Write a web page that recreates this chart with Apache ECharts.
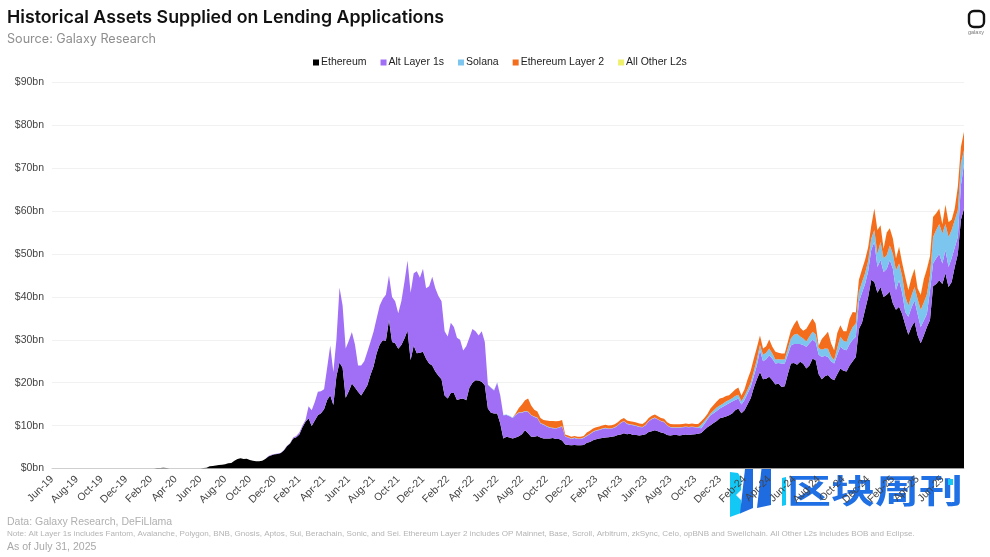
<!DOCTYPE html>
<html>
<head>
<meta charset="utf-8">
<title>Historical Assets Supplied on Lending Applications</title>
<script src="https://cdn.jsdelivr.net/npm/echarts@6/dist/echarts.min.js"></script>
<style>
	html, body { margin: 0; padding: 0; background: #fff; }
	#chart { width: 990px; height: 557px; }
</style>
</head>
<body>
<div id="chart"></div>
<script>
// one label every two months, four readings per month between them
var tickLabels = ['Jun-19', 'Aug-19', 'Oct-19', 'Dec-19', 'Feb-20', 'Apr-20', 'Jun-20', 'Aug-20', 'Oct-20', 'Dec-20',
	'Feb-21', 'Apr-21', 'Jun-21', 'Aug-21', 'Oct-21', 'Dec-21', 'Feb-22', 'Apr-22', 'Jun-22', 'Aug-22',
	'Oct-22', 'Dec-22', 'Feb-23', 'Apr-23', 'Jun-23', 'Aug-23', 'Oct-23', 'Dec-23', 'Feb-24', 'Apr-24',
	'Jun-24', 'Aug-24', 'Oct-24', 'Dec-24', 'Feb-25', 'Apr-25', 'Jun-25'];
var yTicks = [0, 10, 20, 30, 40, 50, 60, 70, 80, 90];

// values in $bn
var ethereum = [
	0, 0, 0, 0, 0, 0, 0, 0, 0, 0,
	0, 0, 0, 0, 0, 0, 0, 0, 0, 0,
	0, 0, 0, 0, 0, 0, 0, 0, 0, 0,
	0, 0, 0, 0, .1, .1, .2, .1, 0, 0,
	0, 0, 0, 0, 0, 0, 0, 0, 0, .1,
	.2, .5, .6, .7, .8, .9, 1, 1.2, 1.3, 1.8,
	2.2, 2.4, 2.2, 2.3, 2, 1.8, 1.7, 1.7, 1.8, 2.2,
	2.8, 3.1, 3.3, 3.4, 3.6, 4.2, 5.2, 5.8, 7, 7.3,
	7.9, 9.6, 10.9, 11.7, 9.9, 11.2, 12.4, 12.9, 13.8, 16,
	17.1, 14.8, 21.5, 24.7, 23.5, 16.5, 18, 19.8, 18.9, 17.9,
	17, 18.2, 19.4, 21.8, 23.8, 26.9, 28.9, 29.9, 29.8, 34.6,
	29.5, 29.2, 27.9, 28.8, 30.3, 32.2, 25.3, 28.7, 26.9, 27,
	27.2, 25.6, 24.5, 24, 22.6, 21.6, 20.8, 17, 16.3, 17.6,
	17.6, 16, 16.2, 16.3, 15.9, 18.8, 20, 20.6, 20.5, 20.2,
	19.4, 14, 13, 12.8, 12.8, 10.5, 7, 7.4, 7.2, 7,
	7.2, 7.5, 8, 8.9, 8.2, 7.4, 7.4, 7.6, 7.2, 7,
	7, 7, 7.1, 6.9, 6.9, 6.5, 5.6, 5.5, 5.4, 5.5,
	5.4, 5.4, 5.5, 6, 6.2, 6.6, 6.8, 7, 7.1, 7.2,
	7.3, 7.4, 7.5, 7.8, 7.9, 8.2, 8, 8.1, 7.8, 7.8,
	7.7, 7.8, 8, 8.5, 8.7, 8.9, 8.7, 8.4, 8.2, 7.8,
	7.7, 7.8, 7.8, 7.7, 7.8, 7.9, 7.8, 7.9, 8, 8.1,
	8.3, 9, 9.6, 10.1, 10.6, 11.1, 11.7, 11.9, 12.1, 12.4,
	12.8, 13.6, 14, 12.9, 13.6, 15, 16.4, 18.8, 20.8, 22.5,
	20.8, 20.9, 21.4, 20.6, 19.6, 19.8, 19, 19.2, 22, 24.5,
	24.6, 24.2, 24.9, 24.4, 23.3, 24, 25.6, 25.3, 22, 20.8,
	21.5, 21.8, 21, 20.6, 22, 23.3, 22.8, 22.6, 24, 25,
	26, 32.5, 34, 37, 40, 44, 43.5, 41, 42.3, 40,
	40.5, 41.2, 38.5, 37, 37.7, 36, 33.5, 31.2, 33, 34.2,
	31, 29.2, 31, 33, 34.6, 42.5, 43, 43.9, 43, 45.5,
	42.3, 43.5, 47, 50, 58, 60.6
];
var altLayer1s = [
	0, 0, 0, 0, 0, 0, 0, 0, 0, 0,
	0, 0, 0, 0, 0, 0, 0, 0, 0, 0,
	0, 0, 0, 0, 0, 0, 0, 0, 0, 0,
	0, 0, 0, 0, 0, 0, 0, 0, 0, 0,
	0, 0, 0, 0, 0, 0, 0, 0, 0, 0,
	0, 0, 0, 0, 0, 0, 0, 0, 0, 0,
	0, 0, 0, 0, 0, 0, 0, 0, 0, 0,
	.1, .1, .1, .1, .1, .1, .1, .1, .2, .3,
	.5, .4, .4, 2.8, 3.7, 4.3, 5.5, 5.1, 4.7, 7.5,
	11.6, 7.7, 8.5, 17.5, 14.5, 11.5, 11.8, 12, 10, 6.1,
	7, 6.8, 7.8, 7.7, 8.1, 8.1, 9.1, 9.7, 10.7, 10.4,
	10.5, 9.8, 8.3, 10.2, 13.2, 16.3, 15.7, 16.8, 19.1, 17.5,
	19.4, 16.4, 18, 20.7, 19.4, 18.6, 18.2, 15, 14.5, 16.4,
	15.4, 14.5, 13.8, 11.2, 12.6, 11.7, 12.5, 11.4, 10.5, 11.8,
	10.1, 5.5, 5.8, 5.4, 7.2, 6.5, 5.4, 5.1, 5, 4.8,
	5.3, 5.5, 5, 4.4, 5, 5, 4.6, 4.2, 3.3, 3.2,
	2.8, 2.5, 2.3, 2.4, 2.6, 3.3, 1.8, 1.7, 1.5, 1.6,
	1.5, 1.5, 1.6, 1.6, 1.8, 1.9, 2, 2, 2.1, 2.2,
	1.9, 1.9, 2, 2.2, 2.7, 2.8, 2.4, 2.1, 2.3, 2.1,
	2, 1.8, 2.1, 2.5, 2.8, 2.9, 2.7, 2.6, 2.6, 2.2,
	1.9, 1.7, 1.7, 1.8, 1.8, 1.8, 1.8, 1.8, 1.6, 1.4,
	1.1, 1.4, 1.8, 2.3, 2.3, 2.3, 2.3, 2.5, 2.7, 2.8,
	2.8, 2.4, 2.3, 2, 2.4, 2.5, 2.6, 2.7, 3.2, 5.1,
	4.2, 4.6, 5, 5, 4.9, 4.8, 5.5, 5.3, 4.5, 4.2,
	4.4, 4.8, 4.1, 4.4, 5.1, 5.2, 4.4, 4.2, 4.5, 5.2,
	4.8, 4.2, 4, 3.9, 4.5, 5.1, 5, 5, 5, 5,
	4.7, 6.4, 7, 6, 6, 7, 9.3, 6, 6.3, 5.8,
	6, 7.4, 8.1, 4.6, 6.2, 5, 3, 4.2, 4.5, 5,
	5, 3.8, 3.5, 3, 6.9, 5.3, 6, 6.1, 4.8, 5.4,
	4.7, 5.5, 4.5, 4, 8, 10.4
];
var solana = [
	0, 0, 0, 0, 0, 0, 0, 0, 0, 0,
	0, 0, 0, 0, 0, 0, 0, 0, 0, 0,
	0, 0, 0, 0, 0, 0, 0, 0, 0, 0,
	0, 0, 0, 0, 0, 0, 0, 0, 0, 0,
	0, 0, 0, 0, 0, 0, 0, 0, 0, 0,
	0, 0, 0, 0, 0, 0, 0, 0, 0, 0,
	0, 0, 0, 0, 0, 0, 0, 0, 0, 0,
	0, 0, 0, 0, 0, 0, 0, 0, 0, 0,
	0, 0, 0, 0, 0, 0, 0, 0, 0, 0,
	0, 0, 0, 0, 0, 0, 0, 0, 0, 0,
	0, 0, 0, 0, 0, 0, 0, 0, 0, 0,
	0, 0, 0, 0, 0, 0, 0, 0, 0, 0,
	0, 0, 0, 0, 0, 0, 0, 0, 0, 0,
	0, 0, 0, 0, 0, 0, 0, 0, 0, 0,
	0, .1, .1, .1, .1, .1, .1, .1, .1, .1,
	.1, .1, .1, .1, .1, .1, .1, .1, .1, .1,
	.1, .1, .1, .1, .1, .1, .1, .1, .1, .1,
	.1, .1, .1, .1, .1, .1, .1, .1, .1, .1,
	.1, .1, .1, .1, .1, .1, .1, .1, .1, .1,
	.1, .1, .1, .1, .1, .1, .1, .1, .1, .1,
	.1, .1, .1, .1, .1, .1, .1, .1, .1, .1,
	.8, .6, .5, .4, .6, .8, .7, .7, .8, .8,
	.8, .9, .9, .8, .9, .9, 1, 1.2, 1.4, 1.2,
	1.5, 1.5, 1.6, 1.2, .9, .9, .9, .9, 1.4, 1.6,
	2.2, 2.4, 1.8, 1.5, 1.2, 1.6, 1.9, 1.8, 1.6, 1.7,
	1.7, 1.9, 1.2, .8, 1.6, 2.3, 2, 1.9, 2.5, 3,
	3.1, 2.3, 2.4, 2.5, 2.4, 2.6, 2.8, 3, 4.2, 3.2,
	3.2, 3.4, 3.4, 4.6, 3.9, 3.8, 3.6, 2.6, 2.8, 3.1,
	3.5, 4, 4.2, 4.6, 3.5, 6.2, 6.6, 7, 7, 6.1,
	7, 6.6, 6.4, 6.2, 5.2, 3.2
];
var ethereumL2 = [
	0, 0, 0, 0, 0, 0, 0, 0, 0, 0,
	0, 0, 0, 0, 0, 0, 0, 0, 0, 0,
	0, 0, 0, 0, 0, 0, 0, 0, 0, 0,
	0, 0, 0, 0, 0, 0, 0, 0, 0, 0,
	0, 0, 0, 0, 0, 0, 0, 0, 0, 0,
	0, 0, 0, 0, 0, 0, 0, 0, 0, 0,
	0, 0, 0, 0, 0, 0, 0, 0, 0, 0,
	0, 0, 0, 0, 0, 0, 0, 0, 0, 0,
	0, 0, 0, 0, 0, 0, 0, 0, 0, 0,
	0, 0, 0, 0, 0, 0, 0, 0, 0, 0,
	0, 0, 0, 0, 0, 0, 0, 0, 0, 0,
	0, 0, 0, 0, 0, 0, 0, 0, 0, 0,
	0, 0, 0, 0, 0, 0, 0, 0, 0, 0,
	0, 0, 0, 0, 0, 0, 0, 0, 0, 0,
	0, 0, 0, 0, 0, 0, 0, 0, 0, 0,
	.3, 1, 1.8, 2.5, 3, 2.2, 1.6, 1.4, 1.2, 1,
	1.3, 1.5, 1.6, 1.6, 1.5, 1.4, .4, .4, .4, .4,
	.4, .4, .4, .7, .7, .7, .7, .7, .7, .7,
	.7, .7, .7, .7, .7, .7, .7, .7, .7, .7,
	.7, .7, .7, .7, .7, .7, .7, .7, .7, .7,
	.7, .7, .7, .7, .7, .7, .7, .7, .7, .8,
	.8, .8, .8, 1.2, 1.3, 1.4, 1.6, 1.4, 1.3, 1.1,
	1.3, 1.5, 1.7, 1.3, 1.6, 2.4, 2.8, 2.9, 2.8, 2.2,
	1.5, 1.5, 2.1, 1.6, 1.8, 1.5, 1.4, 1.4, 1.6, 1.9,
	2.4, 3.2, 2, 1.8, 3, 3, 3.1, 2.5, .5, 2.5,
	3, 4, 3, 2.3, 3.5, 2.7, 2.2, 2.5, 3.5, 3.5,
	2.6, 2.8, 3, 3.2, 3.2, 3, 5, 5.6, 3.9, 2.3,
	5.3, 4, 3.6, 2.8, 3.9, 3.2, 4.6, 3.6, 4.2, 4.3,
	2.5, 3.5, 5.5, 6, 4.5, 4.7, 3.9, 3.6, 2.2, 4.5,
	3.5, 2.4, 2.7, 5.5, 3.8, 4.3
];
var allOtherL2s = [
	0, 0, 0, 0, 0, 0, 0, 0, 0, 0,
	0, 0, 0, 0, 0, 0, 0, 0, 0, 0,
	0, 0, 0, 0, 0, 0, 0, 0, 0, 0,
	0, 0, 0, 0, 0, 0, 0, 0, 0, 0,
	0, 0, 0, 0, 0, 0, 0, 0, 0, 0,
	0, 0, 0, 0, 0, 0, 0, 0, 0, 0,
	0, 0, 0, 0, 0, 0, 0, 0, 0, 0,
	0, 0, 0, 0, 0, 0, 0, 0, 0, 0,
	0, 0, 0, 0, 0, 0, 0, 0, 0, 0,
	0, 0, 0, 0, 0, 0, 0, 0, 0, 0,
	0, 0, 0, 0, 0, 0, 0, 0, 0, 0,
	0, 0, 0, 0, 0, 0, 0, 0, 0, 0,
	0, 0, 0, 0, 0, 0, 0, 0, 0, 0,
	0, 0, 0, 0, 0, 0, 0, 0, 0, 0,
	0, 0, 0, 0, 0, 0, 0, 0, 0, 0,
	0, 0, 0, 0, 0, 0, 0, 0, 0, 0,
	0, 0, 0, 0, 0, 0, 0, 0, 0, 0,
	0, 0, 0, 0, 0, 0, 0, 0, 0, 0,
	0, 0, 0, 0, 0, 0, 0, 0, 0, 0,
	0, 0, 0, 0, 0, 0, 0, 0, 0, 0,
	0, 0, 0, 0, 0, 0, 0, 0, 0, 0,
	0, 0, 0, 0, 0, 0, 0, 0, 0, 0,
	0, 0, 0, 0, 0, 0, 0, 0, 0, 0,
	0, 0, 0, 0, 0, 0, 0, 0, 0, 0,
	0, 0, 0, 0, 0, 0, 0, 0, 0, 0,
	0, 0, 0, 0, 0, 0, 0, 0, 0, 0,
	0, 0, 0, 0, 0, 0, 0, 0, .1, .1,
	.1, .1, .1, .1, .1, .1, .1, .1, .1, .1,
	.1, .1, .1, .1, .1, .1, .1, .1, .1, .1,
	.1, .1, .1, .1, .1, .1
];

var seriesNames = ['Ethereum', 'Alt Layer 1s', 'Solana', 'Ethereum Layer 2', 'All Other L2s'];
var seriesColors = ['#000000', '#a06ff6', '#7cc5ef', '#f36d1c', '#eef06a'];
var seriesValues = [ethereum, altLayer1s, solana, ethereumL2, allOtherL2s];

// category names stay unique, the part after # is dropped by the formatter
var categories = [];
for (var k = 0; k < tickLabels.length; k++) {
	for (var j = 0; j < 8; j++) {
		categories.push(tickLabels[k] + '#' + j);
	}
}

var series = [];
for (var s = 0; s < seriesNames.length; s++) {
	series.push({
		name: seriesNames[s],
		type: 'line',
		stack: 'supplied',
		data: seriesValues[s],
		showSymbol: false,
		sampling: 'none',
		lineStyle: { width: 0 },
		areaStyle: { color: seriesColors[s], opacity: 1 },
		itemStyle: { color: seriesColors[s] }
	});
}

var footFont = '"Liberation Sans", Arial, sans-serif';
var noteText = 'Note: Alt Layer 1s includes Fantom, Avalanche, Polygon, BNB, Gnosis, Aptos, Sui, Berachain, Sonic, and Sei. Ethereum Layer 2 includes OP Mainnet, Base, Scroll, Arbitrum, zkSync, Celo, opBNB and Swellchain. All Other L2s includes BOB and Eclipse.';

var myEcharts = echarts.init(document.getElementById('chart'));
myEcharts.setOption({
	animation: false,
	backgroundColor: '#ffffff',
	grid: { left: 52, right: 26, top: 82.5, bottom: 88.5 },
	legend: {
		top: 52,
		left: 308,
		icon: 'rect',
		itemWidth: 6,
		itemHeight: 6,
		itemGap: 14,
		data: seriesNames,
		textStyle: { fontFamily: '"Liberation Sans", Arial, sans-serif', fontSize: 10.5, color: '#222', padding: [0, 0, 0, -3] }
	},
	xAxis: {
		type: 'category',
		boundaryGap: false,
		data: categories,
		axisLine: { lineStyle: { color: '#cfcfcf', width: 1 } },
		axisTick: { show: false },
		axisLabel: {
			interval: 7,
			rotate: 45,
			margin: 9,
			fontFamily: '"Liberation Sans", Arial, sans-serif',
			fontSize: 10.5,
			color: '#444',
			formatter: function(value) {
				return value.split('#')[0];
			}
		}
	},
	yAxis: {
		type: 'value',
		min: yTicks[0],
		max: yTicks[yTicks.length - 1],
		interval: 10,
		axisLine: { show: false },
		axisTick: { show: false },
		splitLine: { lineStyle: { color: '#f1f1f1', width: 1 } },
		axisLabel: {
			margin: 8,
			fontFamily: '"Liberation Sans", Arial, sans-serif',
			fontSize: 10.5,
			color: '#444',
			formatter: '${value}bn'
		}
	},
	series: series,
	graphic: [
		{ type: 'text', left: 7, top: 9, style: { text: 'Historical Assets Supplied on Lending Applications', fontFamily: '"Inter", sans-serif', fontWeight: 600, fontSize: 17.8, fill: '#111' } },
		{ type: 'text', left: 7, top: 33, style: { text: 'Source: Galaxy Research', fontFamily: '"Inter", sans-serif', fontSize: 12.6, fill: '#8e8e8e' } },
		{ type: 'text', left: 7, top: 517, style: { text: 'Data: Galaxy Research, DeFiLlama', fontFamily: footFont, fontSize: 10.5, fill: '#b0b0b0' } },
		{ type: 'text', left: 7, top: 530, style: { text: noteText, fontFamily: footFont, fontSize: 8.1, fill: '#b4b4b4' } },
		{ type: 'text', left: 7, top: 542, style: { text: 'As of July 31, 2025', fontFamily: footFont, fontSize: 10.5, fill: '#a8a8a8' } },
		// galaxy logo
		{ type: 'rect', shape: { x: 969, y: 11, width: 15, height: 16, r: 5 }, style: { fill: 'none', stroke: '#111', lineWidth: 2.4 } },
		{ type: 'text', left: 968, top: 29, style: { text: 'galaxy', fontFamily: footFont, fontSize: 5.5, fill: '#777' } },
		// 水印
		{ type: 'polygon', shape: { points: [[730, 472], [738, 473], [741, 478], [741, 490], [736, 495], [741, 500], [741, 513], [730, 517]] }, style: { fill: '#14c8f5' } },
		{ type: 'polygon', shape: { points: [[745, 469], [753, 469], [753, 508], [740, 513.5]] }, style: { fill: '#1f6be0' } },
		{ type: 'polygon', shape: { points: [[761.7, 467], [771, 466], [771, 505], [757, 508]] }, style: { fill: '#1f6be0' } },
		{ type: 'polygon', shape: { points: [[782, 478], [786, 477], [786, 505], [782, 506]] }, style: { fill: '#14c8f5' } },
		{ type: 'text', x: 787, y: 474, scaleY: 0.76, style: { text: '区块周刊', fontFamily: '"Noto Sans CJK SC", sans-serif', fontWeight: 700, fontSize: 44, fill: '#1f6fe5' } },
		{ type: 'rect', shape: { x: 948, y: 479, width: 5, height: 6 }, style: { fill: '#14c8f5' } }
	]
});
</script>
</body>
</html>
